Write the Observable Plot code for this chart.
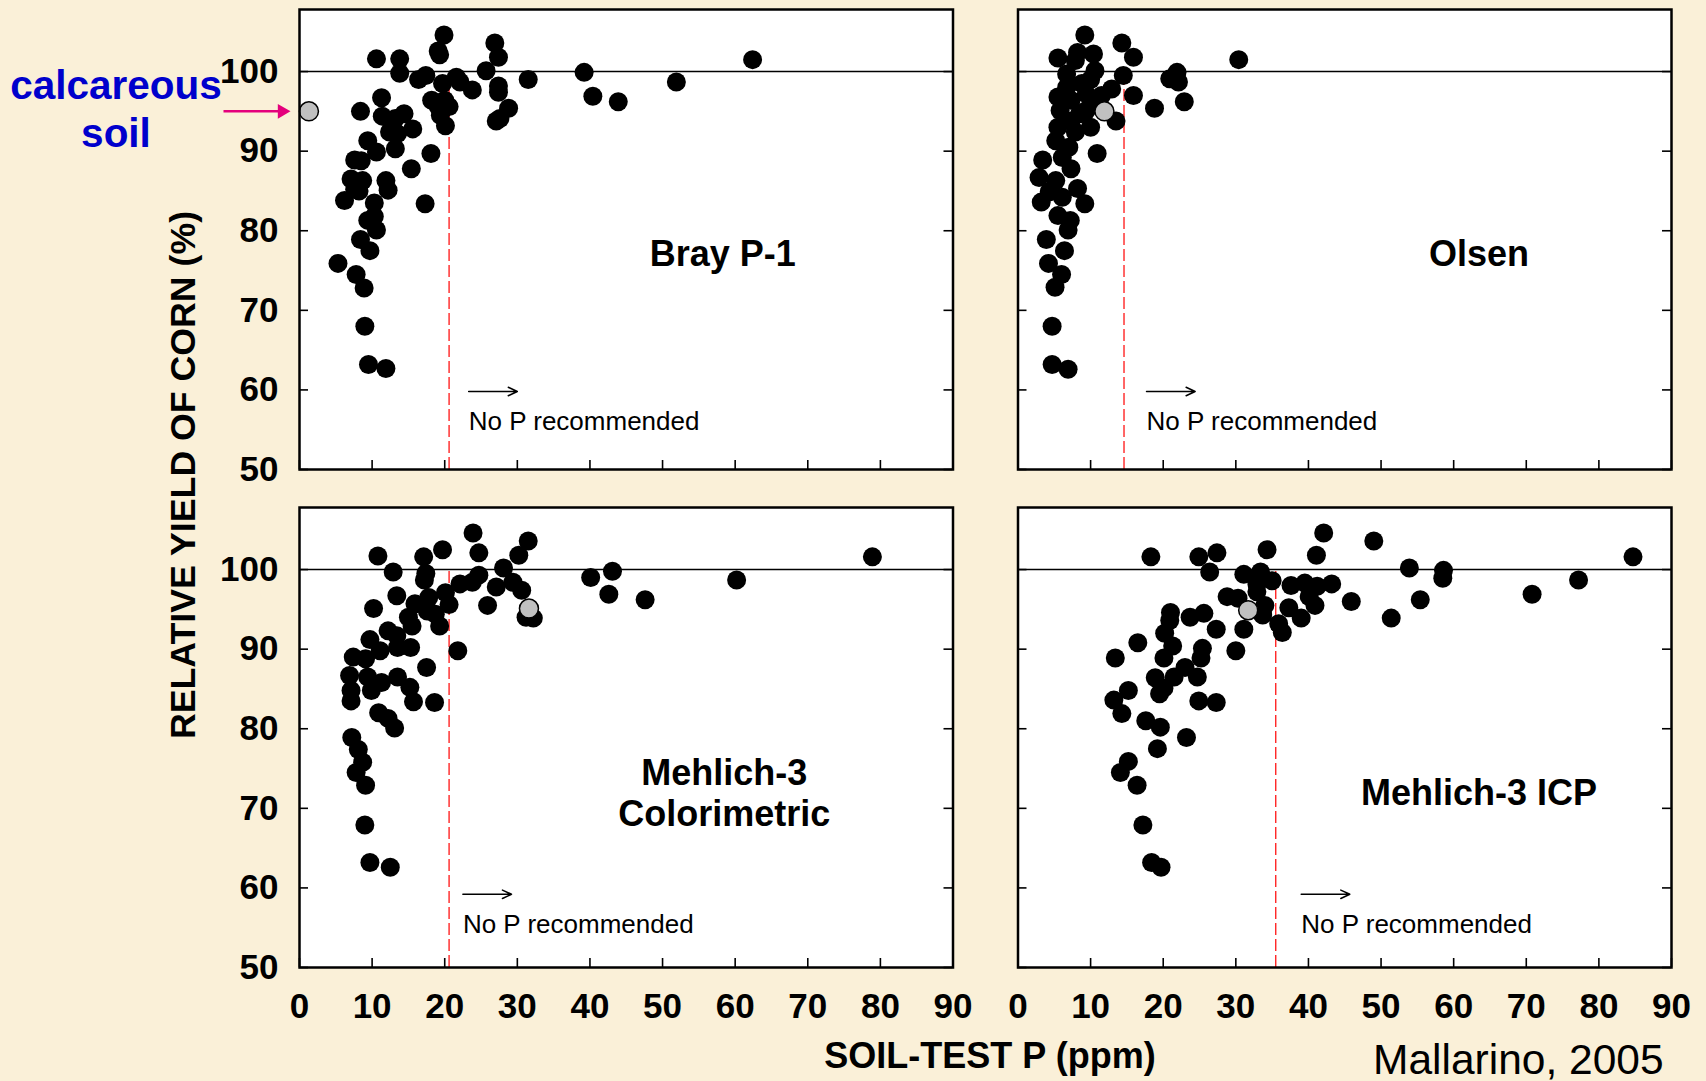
<!DOCTYPE html>
<html><head><meta charset="utf-8">
<script src="https://cdn.jsdelivr.net/npm/d3@7"></script>
<script src="https://cdn.jsdelivr.net/npm/@observablehq/plot@0.6"></script>
<style>
html,body{margin:0;padding:0;background:#FAF0D8;}
#chart{position:relative;width:1706px;height:1081px;}
</style></head><body><div id="chart"></div>
<script>
// ---------- DATA ----------
const methods = ["Bray P-1", "Olsen", "Mehlich-3\nColorimetric", "Mehlich-3 ICP"];
const thresholds = [20.6, 14.6, 20.6, 35.5];   // critical soil-test P (ppm)
const xTicks = [0,10,20,30,40,50,60,70,80,90];
const yTicks = [50,60,70,80,90,100];

const brayX = [10.6,13.8,13.8,16.4,17.4,19.1,19.9,19.3,19.7,21.6,22.1,23.8,25.7,26.9,27.4,27.4,27.4,28.8,27.6,27.1,31.5,39.2,40.4,43.9,51.9,62.4,11.3,8.4,11.4,14.4,13.2,12.4,13.5,15.6,13.2,9.4,10.6,7.6,8.5,18.1,15.4,7.1,8.7,7.6,8.2,6.2,11.9,12.2,17.3,10.3,10.3,9.4,10.6,8.4,9.7,5.3,7.8,8.9,9.0,9.5,11.9,18.2,19.1,20.0,20.6,19.4,20.1];
const brayY = [101.6,101.6,99.8,99.0,99.5,102.6,104.6,102.1,98.5,99.3,98.7,97.7,100.1,103.6,101.8,98.2,97.4,95.4,94.1,93.8,99.0,99.9,96.9,96.2,98.7,101.5,96.7,95.0,94.4,94.7,94.1,92.4,92.2,92.8,90.3,91.3,89.9,88.9,88.8,89.7,87.8,86.5,86.3,85.2,85.0,83.8,86.3,85.1,83.4,83.5,81.8,81.3,80.1,78.9,77.5,75.9,74.5,72.8,68.0,63.2,62.7,96.4,95.6,96.4,95.6,94.5,93.2];

const olsenX = [9.2,14.3,15.9,5.5,8.2,7.9,10.4,10.6,6.7,14.5,21.9,20.9,22.1,30.4,15.9,18.8,22.9,12.9,5.5,8.8,7.3,5.8,9.4,13.5,10.0,7.9,5.5,5.2,7.0,10.9,3.4,6.1,7.3,2.9,5.2,8.2,4.3,3.2,6.1,9.2,5.5,7.2,6.9,3.9,6.4,4.2,6.0,5.1,4.7,4.7,6.9,6.7,9.4,10.6,8.5,7.3,11.5,10.0];
const olsenY = [104.6,103.6,101.8,101.7,102.4,101.4,102.2,100.1,99.7,99.5,99.9,99.1,98.7,101.5,97.0,95.4,96.2,97.8,96.8,98.5,96.4,95.1,95.1,93.8,93.0,92.4,93.0,91.3,90.5,89.7,88.9,89.2,87.8,86.7,86.3,85.3,84.9,83.6,84.2,83.4,81.9,81.3,80.1,78.9,77.5,75.9,74.5,72.9,68.0,63.2,62.6,98.0,97.2,96.4,94.7,93.8,97.0,99.0];

const m3cX = [23.9,31.5,24.7,30.2,19.7,17.1,10.8,12.9,17.4,17.2,28.1,24.7,23.8,22.1,27.1,29.4,30.6,40.1,43.1,42.6,47.6,60.2,78.9,20.1,20.6,25.9,31.2,32.2,13.4,10.2,15.9,17.8,17.6,15.0,15.5,19.3,18.7,12.2,13.4,9.7,11.1,13.5,15.3,21.8,7.4,9.1,17.5,6.9,9.4,11.3,13.5,15.2,7.1,9.9,7.1,15.7,18.6,10.9,12.2,13.1,7.2,8.1,8.7,7.8,9.1,9.0,9.7,12.5];
const m3cY = [104.6,103.6,102.1,101.8,102.5,101.6,101.7,99.7,99.5,98.7,100.2,99.3,98.4,98.2,97.8,98.4,97.4,99.0,99.8,96.9,96.2,98.7,101.6,97.1,95.6,95.5,94.0,93.9,96.7,95.1,95.7,96.5,94.8,94.0,92.9,92.9,94.4,92.3,91.7,91.2,89.8,90.2,90.2,89.8,89.0,88.8,87.7,86.7,86.5,85.8,86.5,85.2,84.8,84.8,83.5,83.4,83.3,82.0,81.3,80.1,78.9,77.4,75.8,74.5,72.9,67.9,63.2,62.6];

const m3iX = [42.1,49.0,34.3,41.1,18.3,24.9,27.4,84.7,26.4,31.1,33.4,53.9,58.6,58.5,77.2,70.8,55.4,51.4,45.9,43.2,41.2,39.5,37.6,35.0,32.9,32.9,28.8,30.3,40.1,40.9,37.3,34.0,33.7,35.9,36.4,39.0,31.1,27.3,25.6,23.7,21.0,20.9,20.2,16.5,30.0,25.4,25.2,21.3,20.1,13.4,23.0,24.7,21.5,18.9,20.1,19.5,15.2,13.2,14.3,24.9,27.3,17.6,19.6,23.2,19.2,15.2,14.1,16.4,17.2,18.4,19.7];
const m3iY = [104.6,103.6,102.5,101.8,101.6,101.6,102.1,101.6,99.7,99.4,99.7,100.2,99.9,98.9,98.7,96.9,96.2,93.9,96.0,98.2,97.9,98.3,98.0,98.6,98.2,97.2,96.6,96.4,96.6,95.5,95.2,95.5,94.3,93.2,92.1,93.9,92.5,92.5,94.5,94.0,94.6,93.6,92.0,90.8,89.8,90.1,88.9,90.4,88.9,88.9,87.7,86.5,86.5,86.4,85.1,84.4,84.8,83.6,81.9,83.5,83.3,81.0,80.2,78.9,77.5,75.9,74.5,72.9,67.9,63.2,62.6];

// calcareous soil (grey point), one per method
const calcX = [1.3, 11.9, 31.6, 31.7];
const calcY = [95.0, 95.0, 95.1, 94.9];

// ---------- LAYOUT (not data) ----------
const W = 1706, H = 1081;
const L = 299, R = 1671, T = 9, B = 967;
const gapX = 65, gapY = 38;
const panelW = (R - L - gapX) / 2, panelH = (B - T - gapY) / 2;
const panelCol = ["L", "R", "L", "R"];
const panelRow = ["T", "T", "B", "B"];
const labelX = [58.3, 63.5, 58.5, 63.5];
const labelY = [77.2, 77.2, 72.0, 72.1];
const noteX = [23.3, 17.7, 22.5, 39.0];
const arrowY = [59.8, 59.8, 59.2, 59.2];
const noteY = [56.0, 56.0, 55.4, 55.4];
const tickLen = 9;

// ---------- TABLES ----------
const seriesX = [brayX, olsenX, m3cX, m3iX];
const seriesY = [brayY, olsenY, m3cY, m3iY];
const points = seriesX.flatMap((xs, i) => xs.map((x, j) => ({x, y: seriesY[i][j], fx: panelCol[i], fy: panelRow[i]})));
const calc = calcX.map((x, i) => ({x, y: calcY[i], fx: panelCol[i], fy: panelRow[i]}));
const panels = methods.map((name, i) => ({
  name, threshold: thresholds[i], fx: panelCol[i], fy: panelRow[i],
  lx: labelX[i], ly: labelY[i], nx: noteX[i], ay: arrowY[i], ny: noteY[i]
}));

const font = "'Liberation Sans', Arial, Helvetica, sans-serif";

const plot = Plot.plot({
  width: W, height: H,
  marginLeft: L, marginRight: W - R, marginTop: T, marginBottom: H - B,
  style: {background: "transparent", fontFamily: font, color: "black", overflow: "visible"},
  fx: {domain: ["L", "R"], paddingInner: gapX / (panelW + gapX), paddingOuter: 0, round: false, axis: null},
  fy: {domain: ["T", "B"], paddingInner: gapY / (panelH + gapY), paddingOuter: 0, round: false, axis: null},
  x: {domain: [0, 90]},
  y: {domain: [50, 107.8]},
  marks: [
    Plot.frame({fill: "white"}),
    Plot.ruleY([100], {stroke: "black", strokeWidth: 1.5}),
    Plot.ruleX(panels, {fx: "fx", fy: "fy", x: "threshold", y1: 50, y2: 100, stroke: "#ff0000", strokeWidth: 1.2, strokeDasharray: "12,4"}),
    Plot.tickY(yTicks, {y: d => d, insetRight: panelW - tickLen, stroke: "black", strokeWidth: 1.6}),
    Plot.tickY(yTicks, {y: d => d, insetLeft: panelW - tickLen, stroke: "black", strokeWidth: 1.6}),
    Plot.tickX(xTicks, {x: d => d, insetTop: panelH - tickLen, stroke: "black", strokeWidth: 1.6}),
    Plot.dot(points, {x: "x", y: "y", fx: "fx", fy: "fy", r: 9.5, fill: "black"}),
    Plot.dot(calc, {x: "x", y: "y", fx: "fx", fy: "fy", r: 9.5, fill: "#c0c0c0", stroke: "black", strokeWidth: 1.5}),
    Plot.frame({stroke: "black", strokeWidth: 2.5}),
    Plot.text(panels, {fx: "fx", fy: "fy", x: "lx", y: "ly", text: "name", fontSize: 36, fontWeight: "bold", lineHeight: 1.13, fill: "black"}),
    Plot.arrow(panels, {fx: "fx", fy: "fy", x1: "nx", x2: d => d.nx + 6.7, y1: "ay", y2: "ay", bend: 0, headLength: 10, headAngle: 50, stroke: "black", strokeWidth: 1.5}),
    Plot.text(panels, {fx: "fx", fy: "fy", x: "nx", y: "ny", text: () => "No P recommended", textAnchor: "start", fontSize: 26, fill: "black"}),
    // pink pointer to calcareous soil (Bray panel)
    Plot.ruleY(calc.slice(0, 1), {fx: "fx", fy: "fy", y: "y", x1: -10.4, x2: -2.6, stroke: "#E4007C", strokeWidth: 2.5}),
    Plot.dot(calc.slice(0, 1), {fx: "fx", fy: "fy", y: "y", x: -2.4, symbol: "triangle2", rotate: 90, r: 7, fill: "#E4007C"}),
    Plot.axisY(yTicks, {anchor: "left", tickSize: 0, tickPadding: 21, fontSize: 35, fontWeight: "bold", label: null}),
    Plot.axisX(xTicks, {anchor: "bottom", tickSize: 0, tickPadding: 26, fontSize: 35, fontWeight: "bold", label: null})
  ]
});
document.getElementById("chart").appendChild(plot);

// ---------- TITLES / NOTES ----------
const svg = d3.select(plot);
svg.append("text")
  .attr("transform", "translate(182,475) rotate(-90)")
  .attr("text-anchor", "middle").attr("dy", "0.35em")
  .style("font", `bold 35.7px ${font}`).attr("fill", "black")
  .text("RELATIVE YIELD OF CORN (%)");
svg.append("text")
  .attr("x", 990).attr("y", 1068).attr("text-anchor", "middle")
  .style("font", `bold 36px ${font}`).attr("fill", "black")
  .text("SOIL-TEST P (ppm)");
svg.append("text")
  .attr("x", 1373).attr("y", 1074).attr("text-anchor", "start")
  .style("font", `42.5px ${font}`).attr("fill", "black")
  .text("Mallarino, 2005");
svg.append("text")
  .attr("x", 116).attr("y", 99).attr("text-anchor", "middle")
  .style("font", `bold 40.5px ${font}`).attr("fill", "#0000CC")
  .text("calcareous");
svg.append("text")
  .attr("x", 116).attr("y", 147).attr("text-anchor", "middle")
  .style("font", `bold 40.5px ${font}`).attr("fill", "#0000CC")
  .text("soil");
</script>
</body></html>
